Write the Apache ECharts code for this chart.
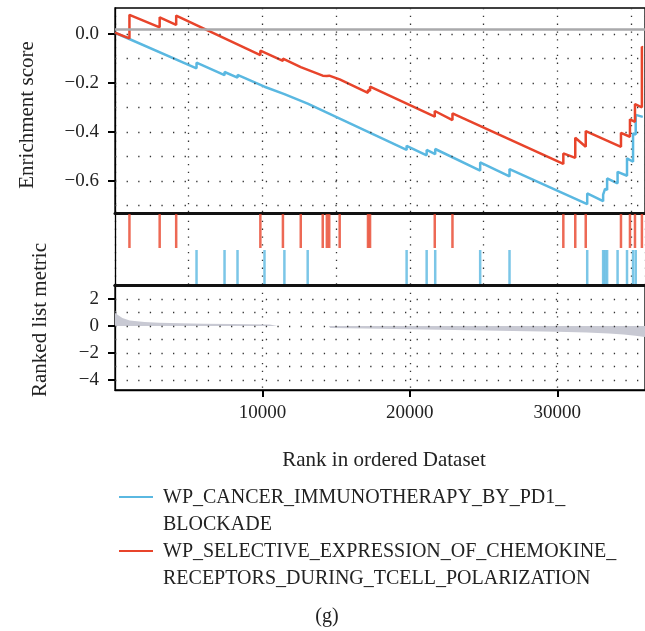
<!DOCTYPE html>
<html>
<head>
<meta charset="utf-8">
<script src="https://cdn.jsdelivr.net/npm/echarts@6/dist/echarts.min.js"></script>
<style>
html, body { margin: 0; padding: 0; background: #fff; }
#main { width: 645px; height: 631px; }
</style>
</head>
<body>
<div id="main"></div>
<script>
var FONT = 'Liberation Serif';
var BLUE = '#5ab8e1';
var RED = '#e8442b';

// running enrichment score, vertices [rank, ES]
var blueES = [
  [0, 0.005],
  [5530, -0.140], [5530, -0.117],
  [7430, -0.168], [7430, -0.155],
  [8310, -0.178], [8310, -0.167],
  [10140, -0.215], [10140, -0.208],
  [11490, -0.245], [11490, -0.238],
  [13070, -0.284], [13070, -0.279],
  [19780, -0.473], [19780, -0.456],
  [21140, -0.495], [21140, -0.473],
  [21720, -0.490], [21720, -0.469],
  [24770, -0.557], [24770, -0.524],
  [26760, -0.581], [26760, -0.551],
  [32030, -0.694], [32030, -0.650],
  [33110, -0.682], [33110, -0.655],
  [33240, -0.658], [33240, -0.632],
  [33380, -0.636], [33380, -0.589],
  [34090, -0.609], [34090, -0.562],
  [34730, -0.578], [34730, -0.507],
  [35140, -0.521], [35140, -0.405],
  [35320, -0.410], [35320, -0.330],
  [35800, -0.338]
];
var redES = [
  [0, 0.005],
  [980, -0.018], [980, 0.078],
  [3030, 0.027], [3030, 0.068],
  [4150, 0.037], [4150, 0.075],
  [9860, -0.086], [9860, -0.068],
  [11390, -0.110], [11390, -0.100],
  [12600, -0.135], [12600, -0.128],
  [14090, -0.170], [14090, -0.163],
  [14370, -0.171], [14370, -0.166],
  [14530, -0.170], [14530, -0.165],
  [15240, -0.185], [15240, -0.180],
  [17160, -0.240], [17160, -0.228],
  [17300, -0.232], [17300, -0.215],
  [21690, -0.337], [21690, -0.314],
  [22890, -0.351], [22890, -0.324],
  [30410, -0.530], [30410, -0.487],
  [31220, -0.505], [31220, -0.423],
  [31930, -0.460], [31930, -0.396],
  [34320, -0.460], [34320, -0.403],
  [34930, -0.419], [34930, -0.348],
  [35270, -0.358], [35270, -0.286],
  [35740, -0.299], [35740, -0.052],
  [35800, -0.054]
];

// gene set hit positions (rank)
var blueHits = [5530, 7430, 8310, 10140, 11490, 13070, 19780, 21140, 21720, 24770, 26760,
  32030, 33110, 33240, 33380, 34090, 34730, 35140, 35320];
var redHits = [980, 3030, 4150, 9860, 11390, 12600, 14090, 14370, 14530, 15240, 17160, 17300,
  21690, 22890, 30410, 31220, 31930, 34320, 34930, 35270, 35740];

// ranked list metric [rank, value]
var rankMetric = [
  [0, 1.15], [150, 0.85], [500, 0.6], [1000, 0.42], [2000, 0.3], [3000, 0.24],
  [4500, 0.2], [6000, 0.17], [8000, 0.15], [10500, 0.12], [11000, 0], [14500, 0],
  [14600, -0.15], [18000, -0.2], [21000, -0.26], [24000, -0.31], [27000, -0.36],
  [30000, -0.42], [32000, -0.48], [33500, -0.55], [34500, -0.62], [35300, -0.72], [35950, -0.82]
];

var esTicks = [-0.6, -0.4, -0.2, 0];
var esGridLines = [0, -0.1, -0.2, -0.3, -0.4, -0.5, -0.6, -0.7];
var metricTicks = [-4, -2, 0, 2];
var metricGridLines = [2, 1, 0, -1, -2, -3, -4];
var rankTicks = [10000, 20000, 30000];
var topRefLine = 0.02;

var legendNames = ['WP_CANCER_IMMUNOTHERAPY_BY_PD1_\nBLOCKADE',
  'WP_SELECTIVE_EXPRESSION_OF_CHEMOKINE_\nRECEPTORS_DURING_TCELL_POLARIZATION'];

var XMAX = 35950;
var dotV = { color: '#333', width: 1.3, type: [1.3, 6.5] };
var dotH = { color: '#333', width: 1.3, type: [1.3, 10.3] };

function fmt(v) {
  return String(v).replace('-', '\u2212');
}

var myChart = echarts.init(document.getElementById('main'));

var option = {
  animation: false,
  textStyle: { fontFamily: FONT },
  grid: [
    { left: 115, right: -2, top: 8, height: 205, show: true, borderColor: '#000', borderWidth: 1.3 },
    { left: 115, right: -2, top: 213, height: 72 },
    { left: 115, right: -2, top: 285, height: 105, show: true, borderColor: '#000', borderWidth: 1.3 }
  ],
  xAxis: [
    { gridIndex: 0, type: 'value', min: 0, max: XMAX, interval: 5000,
      axisLine: { show: false, onZero: false }, axisTick: { show: false }, axisLabel: { show: false },
      splitLine: { show: true, lineStyle: dotV } },
    { gridIndex: 1, type: 'value', min: 0, max: XMAX, interval: 5000, position: 'bottom',
      axisLine: { show: true, onZero: false, lineStyle: { color: '#111', width: 3 } },
      axisTick: { show: false }, axisLabel: { show: false },
      splitLine: { show: true, lineStyle: dotV } },
    { gridIndex: 1, type: 'value', min: 0, max: XMAX, position: 'top',
      axisLine: { show: true, onZero: false, lineStyle: { color: '#111', width: 3 } },
      axisTick: { show: false }, axisLabel: { show: false }, splitLine: { show: false } },
    { gridIndex: 2, type: 'value', min: 0, max: XMAX, interval: 5000, position: 'bottom',
      axisLine: { show: true, onZero: false, lineStyle: { color: '#000', width: 1.3 } },
      axisTick: { show: true, customValues: rankTicks, length: 7, lineStyle: { color: '#000', width: 2 } },
      axisLabel: { show: true, customValues: rankTicks, margin: 14, color: '#222', fontSize: 19, fontFamily: FONT,
        formatter: function (v) { return String(v); } },
      splitLine: { show: true, lineStyle: dotV } },
    { gridIndex: 2, type: 'value', min: 0, max: XMAX, position: 'top',
      axisLine: { show: true, onZero: false, lineStyle: { color: '#111', width: 3 } },
      axisTick: { show: false }, axisLabel: { show: false }, splitLine: { show: false } }
  ],
  yAxis: [
    { gridIndex: 0, type: 'value', min: -0.73, max: 0.106,
      axisLine: { show: true, onZero: false, lineStyle: { color: '#000', width: 1.3 } },
      axisTick: { show: true, customValues: esTicks, length: 7, lineStyle: { color: '#000', width: 2 } },
      axisLabel: { show: true, customValues: esTicks, margin: 16, color: '#222', fontSize: 19, fontFamily: FONT,
        formatter: function (v) { return fmt(v.toFixed(1)); } },
      splitLine: { show: false } },
    { gridIndex: 1, type: 'value', min: 0, max: 2,
      axisLine: { show: true, onZero: false, lineStyle: { color: '#000', width: 1.3 } },
      axisTick: { show: false }, axisLabel: { show: false }, splitLine: { show: false } },
    { gridIndex: 2, type: 'value', min: -4.75, max: 3.05,
      axisLine: { show: true, onZero: false, lineStyle: { color: '#000', width: 1.3 } },
      axisTick: { show: true, customValues: metricTicks, length: 7, lineStyle: { color: '#000', width: 2 } },
      axisLabel: { show: true, customValues: metricTicks, margin: 16, color: '#222', fontSize: 19, fontFamily: FONT,
        formatter: function (v) { return fmt(v); } },
      splitLine: { show: false } }
  ],
  series: [
    {
      name: 'metric', type: 'line', xAxisIndex: 3, yAxisIndex: 2,
      data: rankMetric, showSymbol: false, silent: true,
      lineStyle: { width: 0, opacity: 0 },
      areaStyle: { color: '#c8c9d3', opacity: 1 },
      markLine: {
        silent: true, symbol: 'none', label: { show: false },
        lineStyle: dotH,
        data: metricGridLines.map(function (v) { return { yAxis: v }; })
      }
    },
    {
      name: 'blueES', type: 'line', xAxisIndex: 0, yAxisIndex: 0,
      data: blueES, showSymbol: false, silent: true,
      lineStyle: { color: BLUE, width: 2.5 },
      markLine: {
        silent: true, symbol: 'none', label: { show: false },
        lineStyle: dotH,
        data: esGridLines.map(function (v) { return { yAxis: v }; })
      }
    },
    {
      name: 'redES', type: 'line', xAxisIndex: 0, yAxisIndex: 0,
      data: redES, showSymbol: false, silent: true,
      lineStyle: { color: RED, width: 2.5 },
      markLine: {
        silent: true, symbol: 'none', label: { show: false },
        lineStyle: { color: '#a9a9ab', width: 2.5, type: 'solid' },
        data: [{ yAxis: topRefLine }]
      }
    },
    {
      name: 'redHits', type: 'scatter', xAxisIndex: 1, yAxisIndex: 1,
      data: redHits.map(function (r) { return [r, 1.5]; }),
      symbol: 'rect', symbolSize: [2.5, 34], silent: true,
      itemStyle: { color: RED }
    },
    {
      name: 'blueHits', type: 'scatter', xAxisIndex: 1, yAxisIndex: 1,
      data: blueHits.map(function (r) { return [r, 0.5]; }),
      symbol: 'rect', symbolSize: [2.5, 34], silent: true,
      itemStyle: { color: BLUE }
    }
  ],
  graphic: [
    { type: 'text', x: 27, y: 115, rotation: Math.PI / 2,
      style: { text: 'Enrichment score', font: '21px "Liberation Serif"', fill: '#222', textAlign: 'center', textVerticalAlign: 'middle' } },
    { type: 'text', x: 40, y: 320, rotation: Math.PI / 2,
      style: { text: 'Ranked list metric', font: '21px "Liberation Serif"', fill: '#222', textAlign: 'center', textVerticalAlign: 'middle' } },
    { type: 'text', x: 384, y: 460,
      style: { text: 'Rank in ordered Dataset', font: '21px "Liberation Serif"', fill: '#222', textAlign: 'center', textVerticalAlign: 'middle' } },
    { type: 'line', shape: { x1: 119, y1: 497, x2: 153, y2: 497 }, style: { stroke: BLUE, lineWidth: 2 } },
    { type: 'text', x: 163, y: 484,
      style: { text: legendNames[0], font: '20px "Liberation Serif"', lineHeight: 27, fill: '#222', textAlign: 'left', textVerticalAlign: 'top' } },
    { type: 'line', shape: { x1: 119, y1: 551, x2: 153, y2: 551 }, style: { stroke: RED, lineWidth: 2 } },
    { type: 'text', x: 163, y: 538,
      style: { text: legendNames[1], font: '20px "Liberation Serif"', lineHeight: 27, fill: '#222', textAlign: 'left', textVerticalAlign: 'top' } },
    { type: 'text', x: 327, y: 617,
      style: { text: '(g)', font: '20px "Liberation Serif"', fill: '#222', textAlign: 'center', textVerticalAlign: 'middle' } }
  ]
};

myChart.setOption(option);
</script>
</body>
</html>
